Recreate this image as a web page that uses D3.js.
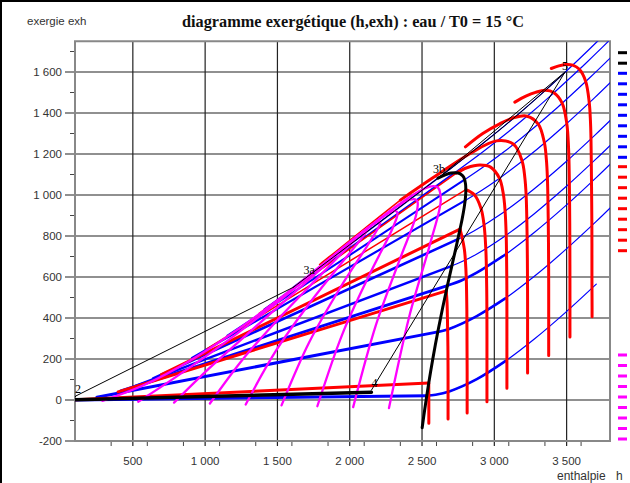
<!DOCTYPE html>
<html><head><meta charset="utf-8">
<script src="https://cdn.jsdelivr.net/npm/d3@7"></script>
<style>body{margin:0;background:#fff}svg{display:block}</style>
</head><body>
<svg id="c" width="630" height="483"></svg>
<script>
// ---------- axes ----------
const xTicks=[500,1000,1500,2000,2500,3000,3500];
const xTickLabels=["500","1 000","1 500","2 000","2 500","3 000","3 500"];
const yTicks=[-200,0,200,400,600,800,1000,1200,1400,1600];
const yTickLabels=["-200","0","200","400","600","800","1 000","1 200","1 400","1 600"];
const xMinor=[350,600,850,1100,1350,1600,1850,2100,2350,2600,2850,3100,3350,3600];
const yMinor=[-100,100,300,500,700,900,1100,1300,1500,1700];

// ---------- isobars (blue): [h, exh] ----------
const p002_two=[[73.4,0.1],[2532.9,21.3]];
const p002_sup=[[2532.9,21.3],[2594,25.7],[2688,41.7],[2879,101.5],[3076,189.3],[3279,298.4],[3489,424.8],[3705,565]];
const p02_two=[[251.4,13.4],[2609.7,332.2]];
const p02_sup=[[2609.7,332.2],[2687,346.8],[2879,409.5],[3076,495.5],[3279,604.5],[3489,731],[3705,871.2],[3816,947]];
const p1_two=[[417.5,44],[2675.5,558.2]];
const p1_sup=[[2675.5,558.2],[2776.4,584.4],[2875.3,619.6],[3074.3,708.7],[3278.2,818.2],[3488.1,944.3],[3704.7,1085],[3816,1160.8]];
const p2_two=[[504.7,65.6],[2706.6,654.8]];
const p2_sup=[[2706.6,654.8],[2769.1,672.9],[2870.5,708.8],[3072.1,799.2],[3276.7,908.9],[3487,1035.1],[3704,1176.1],[3815,1251.4]];
const p5_two=[[640.2,105.8],[2748.7,784.5]];
const p5_sup=[[2748.7,784.5],[2855.8,823.5],[3064.6,916.4],[3272.4,1027.9],[3483.8,1154.7],[3701.5,1296],[3813,1371.8]];
const p20_two=[[908.8,205.3],[2799.5,973.6]];
const p20_sup=[[2799.5,973.6],[2903.2,1018.3],[3024.2,1075.7],[3248.4,1195.9],[3468.3,1328.1],[3690.7,1472.5],[3804,1549.6]];
const p50_two=[[1154.2,314.7],[2794.3,1074.7]];
const p50_sup=[[2794.3,1074.7],[2925.7,1137.8],[3069.3,1212.1],[3196.7,1282.8],[3434.7,1425.8],[3666.9,1576.6],[3783,1655.4],[3900,1736.9]];
const p100_two=[[1407.6,441.4],[2725.3,1109]];
const p100_sup=[[2725.3,1109],[2924,1212.5],[3097.4,1308.7],[3242.3,1393.6],[3374.6,1474.8],[3500.9,1555.9],[3625.8,1638.1],[3748,1721.2],[3870,1806.3]];
const p150_two=[[1610.5,550],[2610.5,1082.2]];
const p150_sup=[[2610.5,1082.2],[2692.4,1125.7],[2975.7,1282.6],[3157.3,1388.9],[3310.8,1483.4],[3448.6,1571.7],[3583.1,1660.7],[3712,1748.6],[3840,1839]];

// ---------- isotherms (red) ----------
const t25_two=[[104.8,0.8],[2546.5,82.7]];
const t25_sup=[[2546.5,82.7],[2547,0],[2547,-60],[2547,-114]];
const t95_two=[[398,39.6],[2667.6,532.5]];
const t95_sup=[[2667.6,532.5],[2673,475],[2677,350],[2679,261],[2680,100],[2680,-45],[2680,-93]];
const t165_two=[[697.2,124.5],[2762.7,833.7]];
const t165_sup=[[2762.7,833.7],[2777,794],[2793,734.5],[2799.5,683.7],[2806,593.7],[2810,440],[2811,291],[2812,140],[2812,-15],[2812,-63]];
const t235_two=[[1013.7,250.5],[2802.9,1025.7]];
const t235_sup=[[2802.9,1025.7],[2862,1001],[2908,934],[2929,854],[2941,739],[2945,649],[2948,500],[2949,345],[2949,190],[2949,39],[2949,-9]];
const t305_two=[[1373.7,423.2],[2738,1107.1]];
const t305_sup=[[2738,1107.1],[2810,1133],[2901,1146.5],[2974,1136],[3035,1082],[3062,1006],[3074.5,922],[3082,805],[3084.4,714],[3086.5,560],[3087,410],[3087,257],[3087,104],[3087,57]];
const t375_low=[[1791.5,660.7],[1848,693.2],[1902,723],[2100,835],[2350,975]];
const t375_sup=[[2350,975],[2580,1086],[2830,1201],[3015,1264],[3133,1247.4],[3192.5,1165],[3211,1085],[3220,999],[3227,789],[3229,640],[3230,486],[3230,333],[3230,180],[3230,132]];
const t445_sup=[[2800,1235],[2920,1300],[3037,1347],[3138,1378],[3226.5,1384.5],[3304,1346],[3346.5,1254],[3360,1172],[3367,1085],[3373,875],[3375,720],[3376,570],[3376,417],[3376,264],[3376,217]];
const t515_sup=[[3142,1453],[3218,1482],[3285,1500.6],[3352,1510.5],[3412,1499],[3469,1448],[3501,1349],[3511,1264],[3516,1176],[3520.5,965],[3522,810],[3522.7,661],[3523,508],[3523,355],[3523,307]];
const t585_sup=[[3394,1617],[3446,1630],[3494,1636.5],[3542,1633.5],[3588,1613],[3632,1554],[3656.5,1450],[3664.6,1364],[3668.5,1275],[3672,1064],[3674,910],[3675,760],[3675,606],[3676,453],[3676,406]];

// ---------- iso-quality lines (magenta) x = 0.1 ... 0.9 ----------
const q1=[[289.7,-4.1],[565.7,69.3],[903.8,195.4],[1257.3,359.7],[1485.3,478.5],[1585.7,533.4],[1697.2,596.1],[1760.3,632.1],[1833.5,673.9],[1936.1,733.5],[2084,815.9]];
const q2=[[537.4,-8.5],[796.5,111.7],[1110.3,266.3],[1428.8,436.8],[1625.8,548.3],[1709.6,597.1],[1800,650.5],[1849.5,680],[1905.5,713.2],[1980.2,757.7],[2084,815.9]];
const q3=[[785.2,-12.8],[1027.3,154.2],[1316.9,337.3],[1600.3,513.8],[1766.2,618.2],[1833.4,660.9],[1902.7,705],[1938.8,728],[1977.5,752.4],[2024.3,782],[2084,815.9]];
const q4=[[1032.9,-17.2],[1258.1,196.6],[1523.4,408.2],[1771.8,590.8],[1906.7,688.1],[1957.3,724.6],[2005.4,759.4],[2028,776],[2049.5,791.7],[2068.4,806.2],[2084,815.9]];
const q5=[[1280.6,-21.6],[1488.9,239.1],[1730,479.1],[1943.4,667.9],[2047.2,758],[2081.2,788.3],[2108.2,813.9],[2117.3,824],[2121.5,830.9],[2112.5,830.5],[2084,815.9]];
const q6=[[1528.3,-26],[1719.8,281.5],[1936.5,550],[2114.9,744.9],[2187.7,827.8],[2205.1,852],[2210.9,868.3],[2206.6,871.9],[2193.5,870.1],[2156.6,854.8],[2084,815.9]];
const q7=[[1776,-30.4],[1950.6,324],[2143.1,620.9],[2286.4,821.9],[2328.2,897.7],[2329,915.7],[2313.6,922.8],[2295.8,919.9],[2265.5,909.4],[2200.7,879],[2084,815.9]];
const q8=[[2023.8,-34.7],[2181.4,366.4],[2349.6,691.9],[2457.9,898.9],[2468.6,967.6],[2452.8,979.5],[2416.3,977.2],[2385.1,967.9],[2337.5,948.6],[2244.8,903.3],[2084,815.9]];
const q9=[[2271.5,-39.1],[2412.2,408.9],[2556.2,762.8],[2629.4,976],[2609.1,1037.4],[2576.7,1043.2],[2519.1,1031.7],[2474.3,1015.8],[2409.5,987.9],[2288.9,927.5],[2084,815.9]];

// ---------- saturated vapour & cycle (black) ----------
const satVap=[[2501,-135],[2519.2,-43.5],[2546.5,82.7],[2573.5,196.5],[2608.8,331.9],[2643,451.3],[2675.6,558.3],[2705.9,653.4],[2733.4,738.8],[2762.7,833.7],[2777.2,881.8],[2792,940.9],[2800.9,992.5],[2802.9,1025.7],[2800.9,1053],[2789.9,1084.3],[2779.9,1094.4],[2749.6,1107.3],[2700.6,1106.9],[2610.5,1082.2]];
const cyc12=[[84,0.5],[107,20]];
const cyc23=[[107,20],[1610.5,550]];
const cyc33b=[[1610.5,550],[2610.5,1082.2]];
const cyc3b5=[[2610.5,1082.2],[3489,1600]];
const cyc3b5iso=[[2610.5,1082.2],[2692.4,1125.7],[2975.7,1282.6],[3157.3,1388.9],[3310.8,1483.4],[3448.6,1571.7],[3489,1598]];
const cyc54=[[3489,1600],[2150,48]];
const cyc41=[[2150,38],[84,0.5]];
const pointLabels=[["2",107,20,-1,-3],["3a",1610.5,550,10,-13],["3b",2610.5,1082.2,-5,-5],["4",2150,48,0,-3],["5",3489,1600,-3,-2]];

// ---------- drawing ----------
const W=630,H=483, L=75,R=610,T=41.25,B=441;
const svg=d3.select("#c");
const x=d3.scaleLinear().domain([100,3800]).range([L,R]);
const y=d3.scaleLinear().domain([-200,1750]).range([B,T]);

svg.append("rect").attr("width",W).attr("height",H).attr("fill","#fff");
svg.append("line").attr("x1",0).attr("x2",W).attr("y1",1).attr("y2",1).attr("stroke","#000").attr("stroke-width",2);
svg.append("line").attr("x1",1).attr("x2",1).attr("y1",0).attr("y2",H).attr("stroke","#000").attr("stroke-width",2);

svg.append("defs").append("clipPath").attr("id","clip").append("rect")
  .attr("x",L).attr("y",T).attr("width",R-L).attr("height",B-T);

// grid
const g=svg.append("g");
xTicks.forEach(v=>g.append("line").attr("x1",x(v)).attr("x2",x(v)).attr("y1",T).attr("y2",B+5).attr("stroke","#222").attr("stroke-width",1.2));
yTicks.forEach(v=>g.append("line").attr("x1",L-10).attr("x2",R).attr("y1",y(v)).attr("y2",y(v)).attr("stroke","#222").attr("stroke-width",1.2));
xMinor.forEach(v=>g.append("line").attr("x1",x(v)).attr("x2",x(v)).attr("y1",B).attr("y2",B+5).attr("stroke","#444").attr("stroke-width",1));
yMinor.forEach(v=>g.append("line").attr("x1",L-5).attr("x2",L).attr("y1",y(v)).attr("y2",y(v)).attr("stroke","#444").attr("stroke-width",1));
g.append("rect").attr("x",L).attr("y",T).attr("width",R-L).attr("height",B-T).attr("fill","none").attr("stroke","#888").attr("stroke-width",2);

// tick labels and titles
const lab=svg.append("g").attr("font-family","Liberation Sans, Arial, sans-serif").attr("font-size",11.5).attr("fill","#333");
xTicks.forEach((v,i)=>lab.append("text").attr("x",x(v)).attr("y",465).attr("text-anchor","middle").text(xTickLabels[i]));
yTicks.forEach((v,i)=>lab.append("text").attr("x",62).attr("y",y(v)+4).attr("text-anchor","end").text(yTickLabels[i]));
lab.append("text").attr("x",27).attr("y",25).attr("font-size",11.5).text("exergie exh");
lab.append("text").attr("x",557).attr("y",480).attr("font-size",12).text("enthalpie");
lab.append("text").attr("x",616).attr("y",480).attr("font-size",12).text("h");
svg.append("text").attr("x",353).attr("y",27).attr("text-anchor","middle")
  .attr("font-family","Liberation Serif, Times New Roman, serif").attr("font-weight","bold").attr("font-size",16.3)
  .attr("fill","#111").text("diagramme exergétique (h,exh) : eau / T0 = 15 °C");

const plot=svg.append("g").attr("clip-path","url(#clip)");
const lin=d3.line().x(d=>x(d[0])).y(d=>y(d[1]));
const smooth=d3.line().x(d=>x(d[0])).y(d=>y(d[1])).curve(d3.curveCatmullRom.alpha(0.5));
function draw(data,color,w,gen){plot.append("path").attr("d",(gen||lin)(data)).attr("fill","none").attr("stroke",color).attr("stroke-width",w).attr("stroke-linejoin","round").attr("stroke-linecap","round");}

const BLUE="#0000ff",RED="#ff0000",MAG="#ff00ff";
const isobars=[[p002_two,p002_sup,3],[p02_two,p02_sup,3],[p1_two,p1_sup,3],[p2_two,p2_sup,2.4],[p5_two,p5_sup,2.6],[p20_two,p20_sup,2.2],[p50_two,p50_sup,2],[p100_two,p100_sup,1.8],[p150_two,p150_sup,1.6]];
isobars.forEach(([a,b,w],i)=>{
  draw(a,BLUE,w);
  draw(b,BLUE,1.2,smooth);
  if(i<3) draw(b.filter(d=>d[0]<=3090),BLUE,2.6,smooth);
});
[[t25_two,3],[t95_two,3],[t165_two,3],[t235_two,1.5],[t305_two,1.5]].forEach(([a,w])=>draw(a,RED,w));
draw(t375_low,RED,1.5,smooth);
[t25_sup,t95_sup,t165_sup,t235_sup,t305_sup,t375_sup,t445_sup,t515_sup,t585_sup].forEach(a=>draw(a,RED,3,smooth));
[q1,q2,q3,q4,q5,q6,q7,q8,q9].forEach(a=>draw(a,MAG,2.3,smooth));
draw(satVap,"#000",3,smooth);
draw(cyc41,"#000",3.5);
[cyc12,cyc23,cyc33b,cyc3b5,cyc54].forEach(a=>draw(a,"#000",1));
draw(cyc3b5iso,"#000",1,smooth);

const pl=svg.append("g").attr("font-family","Liberation Serif, Times New Roman, serif").attr("font-size",12).attr("fill","#000");
pointLabels.forEach(([t,h,e,dx,dy])=>pl.append("text").attr("x",x(h)+dx).attr("y",y(e)+dy).text(t));

// legend swatches (no text visible in the reference)
const leg=svg.append("g");
const legCols=[["#000",2,52.7],[BLUE,9,73.3],[RED,9,166.7],[MAG,9,355]];
legCols.forEach(([c,n,y0])=>{for(let i=0;i<n;i++)leg.append("rect").attr("x",618).attr("y",y0+i*10.5-1.5).attr("width",9).attr("height",3).attr("fill",c);});
</script>
</body></html>
